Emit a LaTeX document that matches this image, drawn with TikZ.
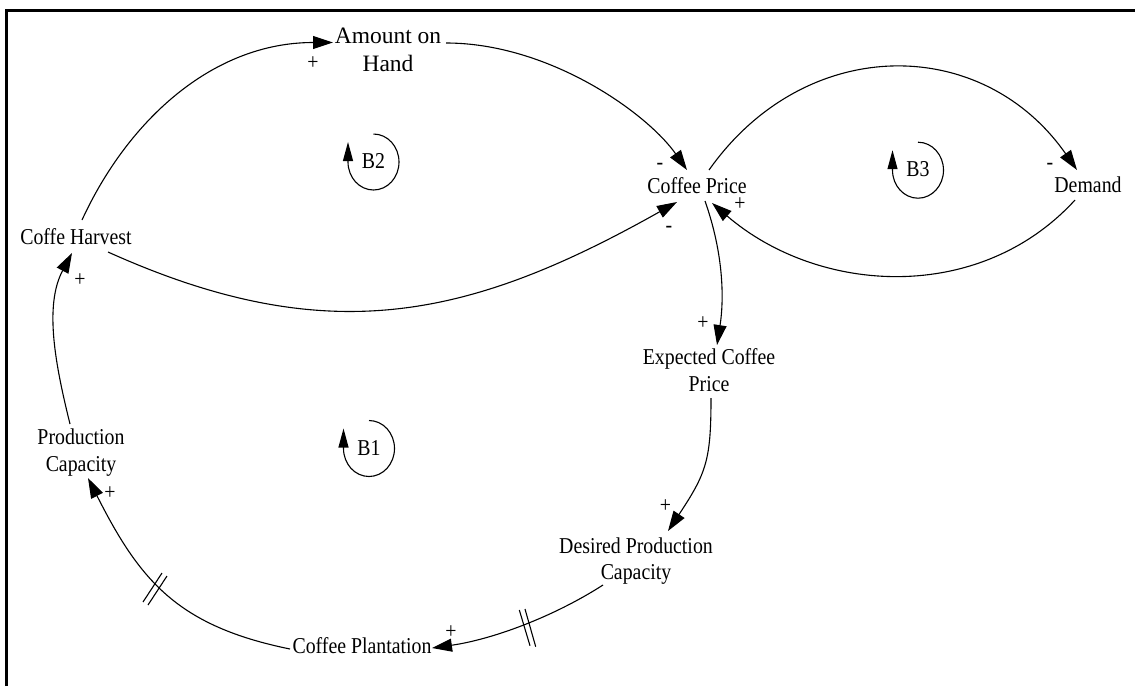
\documentclass[tikz,border=0pt]{standalone}
\usepackage{fontspec}
\setmainfont{Liberation Serif}[FakeStretch=0.875]
\newfontfamily\widefont{Liberation Serif}
\usetikzlibrary{arrows.meta,calc}
\begin{document}
\begin{tikzpicture}[x=1pt,y=-1pt,
  every node/.style={font=\fontsize{22.66}{26.5}\selectfont, inner sep=0pt, outer sep=0pt},
  var/.style={align=center},
  widevar/.style={align=center, font=\widefont\fontsize{23.5}{27.7}\selectfont},
  link/.style={line width=1.1pt, -{Triangle[length=20pt,width=13pt]}},
  plain/.style={line width=1.1pt},
  loopline/.style={line width=1.1pt, -{Triangle[length=19pt,width=10pt]}}]
\useasboundingbox (0,0) rectangle (1135,686);
\draw[line width=2.5pt] (6.7,686) -- (6.7,10.3) -- (1135,10.3);
% variables
\node[widevar] (amount) at (388,50.05) {Amount on\\Hand};
\node[anchor=base] (price) at (697,193) {Coffee Price};
\node[anchor=base] (demand) at (1088,192) {Demand};
\node[anchor=base] (harvest) at (76,244) {Coffe Harvest};
\node[var] (prodcap) at (81,452.8) {Production\\Capacity};
\node[var] (expected) at (709,370.3) {Expected Coffee\\Price};
\node[var] (desired) at (636,561.3) {Desired Production\\Capacity};
\node[anchor=base] (plantation) at (362,653) {Coffee Plantation};
% connectors
\draw[link] ($(harvest.base)+(6,-24)$) .. controls +(46,-100) and +(-120,0) .. ($(amount.center)+(-55,-7.55)$);
\draw[link] ($(amount.center)+(58,-7.05)$) .. controls +(103,0) and +(-40,-57) .. ($(price.base)+(-10,-23)$);
\draw[link] ($(harvest.base)+(32,8)$) .. controls +(218.4,98.4) and +(-208.8,117.6) .. ($(price.base)+(-20,9)$);
\draw[link] ($(price.base)+(12,-23)$) .. controls +(96,-136) and +(-95,-136) .. ($(demand.base)+(-11,-22)$);
\draw[link] ($(demand.base)+(-13,8)$) .. controls +(-95,104) and +(107,92) .. ($(price.base)+(15,10)$);
\draw[link] ($(price.base)+(8,8)$) .. controls +(19,54) and +(7,-45) .. ($(expected.center)+(8,-25.3)$);
\draw[link] ($(expected.center)+(2,27.7)$) .. controls +(0,62) and +(38.5,-58) .. ($(desired.center)+(32,-30.3)$);
\draw[link] ($(desired.center)+(-33,23.7)$) .. controls +(-50.4,32.4) and +(59.4,-8.4) .. ($(plantation.base)+(70,-5)$);
\draw[link] ($(plantation.base)+(-72,-4)$) .. controls +(-112.7,-23) and +(51.8,102.4) .. ($(prodcap.center)+(7,25.2)$);
\draw[link] ($(prodcap.center)+(-11,-28.8)$) .. controls +(-14.4,-58.2) and +(-28.2,52.8) .. ($(harvest.base)+(-4,9)$);
% delay marks
\draw[plain] (519.3,610) -- (530,645.7);
\draw[plain] (525,609) -- (535.7,646.7);
\draw[plain] (143,602) -- (162,573);
\draw[plain] (148,605) -- (167,576);
% polarity signs
\node (s1) at (313,62.7) {+};
\node (s2) at (660,166.7) {-};
\node (s3) at (669,229) {-};
\node (s4) at (1050,166) {-};
\node (s5) at (740,204) {+};
\node (s6) at (703,322.7) {+};
\node (s7) at (665.5,506.5) {+};
\node (s8) at (451,632.3) {+};
\node (s9) at (110,492.7) {+};
\node (s10) at (80,280) {+};
% loop markers
\node (b2) at (373.5,161) {B2};
\node (b3) at (918,169.2) {B3};
\node (b1) at (369,448.5) {B1};
\draw[loopline] ($(b2.center)+(0,-27)$) arc[start angle=-90, end angle=180, x radius=25.5, y radius=28] -- ++(0,-20);
\draw[loopline] ($(b3.center)+(0,-27)$) arc[start angle=-90, end angle=180, x radius=25.5, y radius=28] -- ++(0,-20);
\draw[loopline] ($(b1.center)+(0,-28)$) arc[start angle=-90, end angle=180, x radius=25.5, y radius=28] -- ++(0,-20);
\end{tikzpicture}
\end{document}
